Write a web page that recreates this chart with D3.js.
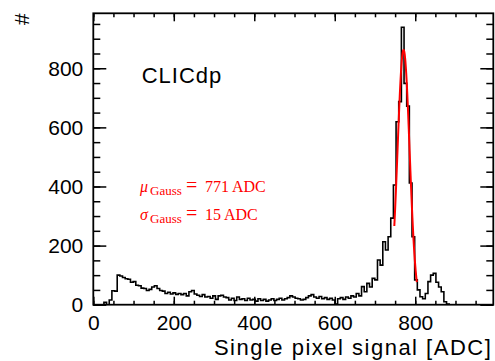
<!DOCTYPE html>
<html>
<head>
<meta charset="utf-8">
<script src="https://cdn.jsdelivr.net/npm/d3@7"></script>
<style>
body { margin: 0; background: #fff; }
svg text { font-family: "Liberation Sans", Arial, Helvetica, sans-serif; }
.fitText { font-family: "Liberation Serif", "Times New Roman", serif !important; fill: #ff0000; }
</style>
</head>
<body>
<div class="container"></div>
<script>
// histogram: 150 bins of 6.6 ADC starting at 0
var binWidth = 6.6;
var counts = [
	0, 0, 0, 0, 8, 0, 16, 47, 46, 100,
	97, 92, 88, 86, 76, 78, 66, 64, 56, 55,
	48, 52, 60, 64, 55, 48, 46, 38, 42, 36,
	40, 35, 38, 34, 38, 30, 44, 48, 36, 32,
	28, 34, 26, 28, 22, 30, 18, 30, 32, 26,
	24, 16, 22, 14, 26, 18, 20, 14, 22, 16,
	18, 12, 20, 14, 18, 12, 16, 20, 14, 18,
	22, 16, 20, 24, 30, 26, 22, 20, 16, 18,
	24, 30, 34, 26, 22, 28, 20, 24, 18, 22,
	16, 2, 20, 24, 18, 26, 22, 30, 26, 38,
	30, 61, 44, 72, 60, 89, 84, 151, 134, 213,
	185, 230, 293, 405, 619, 687, 939, 749, 672, 412,
	230, 84, 50, 27, 20, 38, 78, 100, 106, 76,
	60, 44, 10, 2, 0, 0, 0, 0, 0, 0,
	0, 0, 0, 0, 0, 0, 0, 0, 0, 0
];

// gaussian fit result
var fitAmplitude = 862;
var fitMean = 771;
var fitSigma = 15;
var fitRange = [748, 804];

var xDomain = [0, 994];
var yDomain = [0, 986];
var xMajorTicks = [0, 200, 400, 600, 800];
var yMajorTicks = [0, 200, 400, 600, 800];
var minorStep = 50;

var xTitle = "Single pixel signal [ADC]";
var yTitle = "#";
var tagText = "CLICdp";

const WIDTH = 495;
const HEIGHT = 361;
const LEFT = 93.3, RIGHT = 493.3, TOP = 13.3, BOTTOM = 304.7;

var svg, xScale, yScale;

var translate = function(x, y){
	return "translate(" + x + "," + y + ")";
};

var addAxis = function(axis, transform, withLabels){
	var g = svg.append('g')
		.attr('transform', transform)
		.call(axis);
	g.select('.domain').remove();
	g.attr('font-family', null).attr('font-size', null);
	g.selectAll('line').attr('stroke', '#000').attr('stroke-width', 1.5);
	if (withLabels) {
		g.selectAll('text').attr('font-size', 21).attr('fill', '#000');
	} else {
		g.selectAll('text').remove();
	}
	return g;
};

var drawAxes = function(){
	var minorX = d3.range(xDomain[0], xDomain[1], minorStep);
	var minorY = d3.range(yDomain[0], yDomain[1], minorStep);

	// bottom
	addAxis(d3.axisBottom(xScale).tickValues(minorX).tickSize(-4).tickFormat(''), translate(0, BOTTOM), false);
	addAxis(d3.axisBottom(xScale).tickValues(xMajorTicks).tickSize(-8).tickPadding(10).tickFormat(d3.format('d')), translate(0, BOTTOM), true);
	// top
	addAxis(d3.axisTop(xScale).tickValues(minorX).tickSize(-4).tickFormat(''), translate(0, TOP), false);
	addAxis(d3.axisTop(xScale).tickValues(xMajorTicks).tickSize(-8).tickFormat(''), translate(0, TOP), false);
	// left
	addAxis(d3.axisLeft(yScale).tickValues(minorY).tickSize(-7).tickFormat(''), translate(LEFT, 0), false);
	addAxis(d3.axisLeft(yScale).tickValues(yMajorTicks).tickSize(-13).tickPadding(10).tickFormat(d3.format('d')), translate(LEFT, 0), true);
	// right
	addAxis(d3.axisRight(yScale).tickValues(minorY).tickSize(-7).tickFormat(''), translate(RIGHT, 0), false);
	addAxis(d3.axisRight(yScale).tickValues(yMajorTicks).tickSize(-13).tickFormat(''), translate(RIGHT, 0), false);

	svg.append('rect')
		.attr('x', LEFT).attr('y', TOP)
		.attr('width', RIGHT - LEFT).attr('height', BOTTOM - TOP)
		.attr('fill', 'none')
		.attr('stroke', '#000')
		.attr('stroke-width', 1.8);
};

var drawHistogram = function(){
	var points = counts.map(function(c, i){ return {x: i * binWidth, y: c}; });
	points.push({x: counts.length * binWidth, y: counts[counts.length - 1]});

	var line = d3.line()
		.curve(d3.curveStepAfter)
		.x(function(d){ return xScale(d.x); })
		.y(function(d){ return yScale(d.y); });

	svg.append('path')
		.attr('d', line(points))
		.attr('fill', 'none')
		.attr('stroke', '#000')
		.attr('stroke-width', 1.6)
		.attr('clip-path', 'url(#frameClip)');
};

var drawFit = function(){
	var xs = d3.range(fitRange[0], fitRange[1] + 0.01, 0.5);
	var gauss = function(x){
		var t = (x - fitMean) / fitSigma;
		return fitAmplitude * Math.exp(-0.5 * t * t);
	};
	var line = d3.line()
		.x(function(d){ return xScale(d); })
		.y(function(d){ return yScale(gauss(d)); });

	svg.append('path')
		.attr('d', line(xs))
		.attr('fill', 'none')
		.attr('stroke', '#ff0000')
		.attr('stroke-width', 2);
};

var drawFitText = function(symbol, value, baseline){
	var t = svg.append('text')
		.classed('fitText', true)
		.attr('y', baseline)
		.attr('font-size', 16);
	t.append('tspan').attr('x', 140).attr('font-style', 'italic').text(symbol);
	t.append('tspan').attr('x', 150).attr('dy', 3).attr('font-size', 13).text('Gauss');
	t.append('tspan').attr('x', 186).attr('dy', -3).attr('font-size', 20).text('=');
	t.append('tspan').attr('x', 205).text(value);
	t.append('tspan').attr('dx', 3).text('ADC');
};

var drawTexts = function(){
	svg.append('text')
		.attr('x', RIGHT - 1)
		.attr('y', 355)
		.attr('text-anchor', 'end')
		.attr('font-size', 22)
		.attr('letter-spacing', 1.5)
		.text(xTitle);

	svg.append('text')
		.attr('transform', translate(29, TOP) + ' rotate(-90)')
		.attr('text-anchor', 'end')
		.attr('font-size', 21)
		.text(yTitle);

	svg.append('text')
		.attr('x', 141.7)
		.attr('y', 83)
		.attr('font-size', 22)
		.attr('letter-spacing', 1)
		.text(tagText);

	drawFitText('\u03bc', fitMean, 192);
	drawFitText('\u03c3', fitSigma, 220);
};

var loadChart = function(){
	svg = d3.select('.container').append('svg')
		.attr('width', WIDTH)
		.attr('height', HEIGHT);

	xScale = d3.scaleLinear().domain(xDomain).range([LEFT, RIGHT]);
	yScale = d3.scaleLinear().domain(yDomain).range([BOTTOM, TOP]);

	svg.append('clipPath').attr('id', 'frameClip')
		.append('rect')
		.attr('x', LEFT).attr('y', TOP)
		.attr('width', RIGHT - LEFT).attr('height', BOTTOM - TOP);

	drawHistogram();
	drawFit();
	drawAxes();
	drawTexts();
};

window.onload = function(){
	loadChart();
};
</script>
</body>
</html>
